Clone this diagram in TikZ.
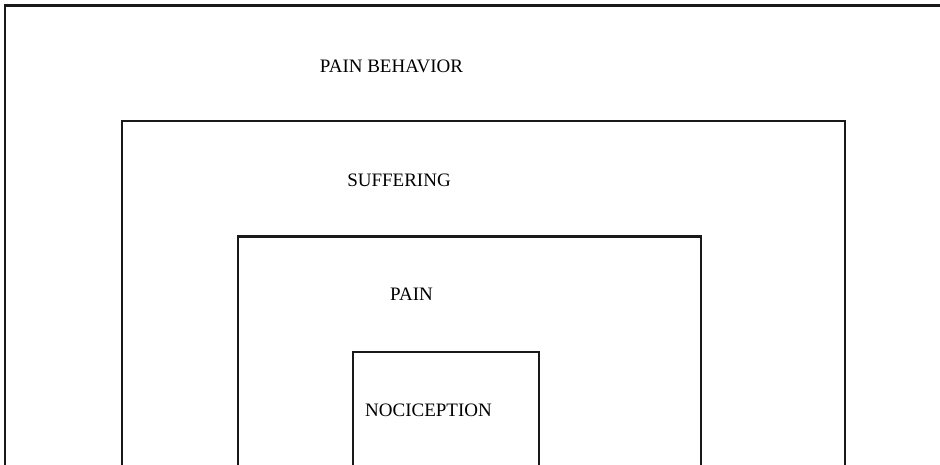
\documentclass[tikz,border=0pt]{standalone}
\usepackage{fontspec}
\setmainfont{Liberation Serif}
\begin{document}
\begin{tikzpicture}[x=1pt,y=-1pt,
  frame/.style={draw=black!90,line width=2.1pt},
  lbl/.style={inner sep=0pt,anchor=base,font=\fontsize{19}{22}\selectfont}]
\useasboundingbox (0,0) rectangle (940,464);
% nested frames, open at the bottom (and at the right for the outermost)
\draw[frame] (5,480) -- (5,5.5) -- (950,5.5);
\draw[frame] (122,480) -- (122,121) -- (845,121) -- (845,480);
\draw[frame] (238,480) -- (238,236.5) -- (701,236.5) -- (701,480);
\draw[frame] (353,480) -- (353,352) -- (539,352) -- (539,480);
% labels
\node[lbl] (behavior) at (391.5,72) {PAIN BEHAVIOR};
\node[lbl] (suffering) at (399,186) {SUFFERING};
\node[lbl] (pain) at (411.5,300) {PAIN};
\node[lbl] (nociception) at (428.5,416) {NOCICEPTION};
\end{tikzpicture}
\end{document}
